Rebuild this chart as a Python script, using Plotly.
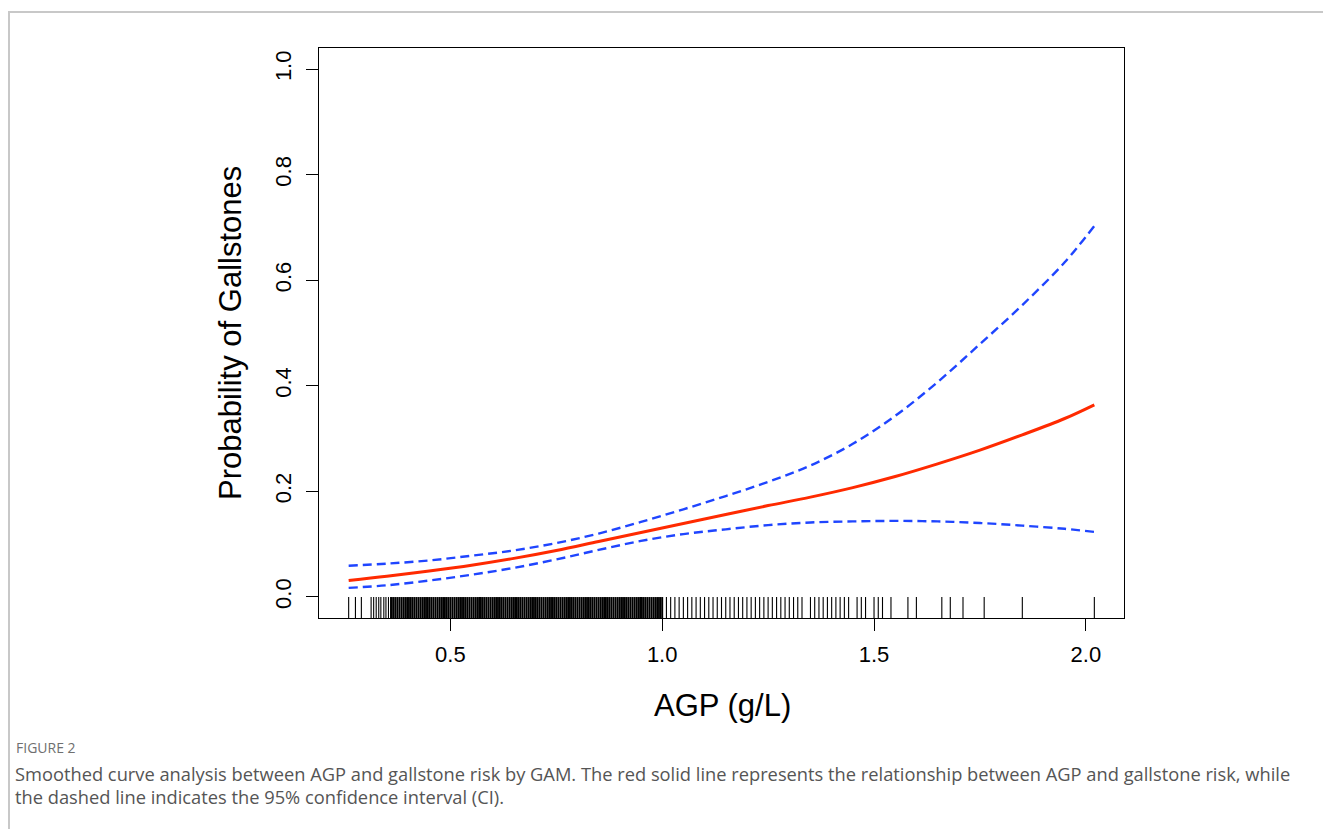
import plotly.graph_objects as go

# ---------------- data ----------------
agp = [0.26, 0.35, 0.45, 0.55, 0.65, 0.75, 0.85, 0.95, 1.05, 1.15,
       1.25, 1.35, 1.45, 1.55, 1.65, 1.75, 1.85, 1.95, 2.02]
prob_fit = [0.031, 0.039, 0.049, 0.060, 0.073, 0.088, 0.105, 0.122, 0.139, 0.156,
            0.173, 0.189, 0.207, 0.228, 0.252, 0.278, 0.307, 0.338, 0.364]
prob_upper = [0.059, 0.063, 0.069, 0.078, 0.088, 0.102, 0.120, 0.142, 0.166, 0.191,
              0.218, 0.249, 0.290, 0.343, 0.407, 0.479, 0.553, 0.634, 0.703]
prob_lower = [0.017, 0.022, 0.031, 0.042, 0.055, 0.071, 0.089, 0.106, 0.119, 0.128,
              0.136, 0.141, 0.143, 0.144, 0.143, 0.140, 0.135, 0.129, 0.123]

# observed AGP values (rug)
rug_sparse_low = [0.26, 0.276, 0.29, 0.313, 0.319, 0.325, 0.331, 0.336, 0.343, 0.348, 0.354]
rug_dense = [0.36, 0.365, 0.37, 0.375, 0.38, 0.385, 0.39, 0.395, 0.40, 0.405,
             0.41, 0.415, 0.42, 0.425, 0.43, 0.435, 0.44, 0.445, 0.45, 0.455,
             0.46, 0.465, 0.47, 0.475, 0.48, 0.485, 0.49, 0.495, 0.50, 0.505,
             0.51, 0.515, 0.52, 0.525, 0.53, 0.535, 0.54, 0.545, 0.55, 0.555,
             0.56, 0.565, 0.57, 0.575, 0.58, 0.585, 0.59, 0.595, 0.60, 0.605,
             0.61, 0.615, 0.62, 0.625, 0.63, 0.635, 0.64, 0.645, 0.65, 0.655,
             0.66, 0.665, 0.67, 0.675, 0.68, 0.685, 0.69, 0.695, 0.70, 0.705,
             0.71, 0.715, 0.72, 0.725, 0.73, 0.735, 0.74, 0.745, 0.75, 0.755,
             0.76, 0.765, 0.77, 0.775, 0.78, 0.785, 0.79, 0.795, 0.80, 0.805,
             0.81, 0.815, 0.82, 0.825, 0.83, 0.835, 0.84, 0.845, 0.85, 0.855,
             0.86, 0.865, 0.87, 0.875, 0.88, 0.885, 0.89, 0.895, 0.90, 0.905,
             0.91, 0.915, 0.92, 0.925, 0.93, 0.935, 0.94, 0.945, 0.95, 0.955,
             0.96, 0.965, 0.97, 0.975, 0.98, 0.985, 0.99, 0.995, 1.00]
rug_sparse_high = [1.01, 1.02, 1.03, 1.04, 1.05, 1.06, 1.07, 1.08, 1.09, 1.10,
                   1.11, 1.12, 1.13, 1.14, 1.15, 1.16, 1.17, 1.18, 1.19, 1.20,
                   1.21, 1.22, 1.23, 1.24, 1.25, 1.26, 1.27, 1.28, 1.29, 1.30,
                   1.31, 1.32, 1.33, 1.35, 1.36, 1.37, 1.38, 1.39, 1.40, 1.41,
                   1.42, 1.43, 1.44, 1.46, 1.47, 1.48, 1.50, 1.51, 1.52, 1.54,
                   1.58, 1.60, 1.66, 1.68, 1.71, 1.76, 1.85, 2.02]

x_ticks = [0.5, 1.0, 1.5, 2.0]
x_tick_text = ["0.5", "1.0", "1.5", "2.0"]
y_ticks = [0.0, 0.2, 0.4, 0.6, 0.8, 1.0]
y_tick_text = ["0.0", "0.2", "0.4", "0.6", "0.8", "1.0"]

x_title = "AGP (g/L)"
y_title = "Probability of Gallstones"
fig_label = "FIGURE 2"
caption_1 = ("Smoothed curve analysis between AGP and gallstone risk by GAM. The red solid line "
             "represents the relationship between AGP and gallstone risk, while")
caption_2 = "the dashed line indicates the 95% confidence interval (CI)."

# ---------------- layout geometry ----------------
OFF = 8                      # page body margin
W, H = 1331 - OFF, 829 - OFF
L = 319 - OFF
T = 48 - OFF
R = W - (1124 - OFF)
B = H - (618 - OFF)
PW, PH = W - L - R, H - T - B


def px_x(px):          # reference-page pixel -> paper coordinate
    return (px - OFF - L) / PW


def px_y(py):
    return (H - B - (py - OFF)) / PH


RED = "#ff2a00"
BLUE = "#1f45ff"
FONT = "Liberation Sans, Arial, Helvetica, sans-serif"
CAP_FONT = "Open Sans, sans-serif"

fig = go.Figure()

rug_y = -0.0215
for vals, w in ((rug_sparse_low, 1.1), (rug_dense, 2.0), (rug_sparse_high, 1.1)):
    fig.add_trace(go.Scatter(
        x=vals, y=[rug_y] * len(vals), mode="markers",
        marker=dict(symbol="line-ns", size=16, color="black",
                    line=dict(color="black", width=w)),
        hoverinfo="x", showlegend=False))

fig.add_trace(go.Scatter(x=agp, y=prob_upper, mode="lines",
                         line=dict(color=BLUE, width=2.4, dash="9px,5px", shape="spline"),
                         showlegend=False))
fig.add_trace(go.Scatter(x=agp, y=prob_lower, mode="lines",
                         line=dict(color=BLUE, width=2.4, dash="9px,5px", shape="spline"),
                         showlegend=False))
fig.add_trace(go.Scatter(x=agp, y=prob_fit, mode="lines",
                         line=dict(color=RED, width=3, shape="spline"),
                         showlegend=False))

axis_common = dict(showgrid=False, zeroline=False, showline=True, mirror=True,
                   linecolor="black", linewidth=1, ticks="outside", ticklen=12,
                   tickcolor="black", tickwidth=1,
                   tickfont=dict(family=FONT, size=22, color="black"))

fig.update_xaxes(range=[0.19, 2.09], tickvals=x_ticks, ticktext=x_tick_text,
                 ticklabelstandoff=5, **axis_common)
fig.update_yaxes(range=[-0.04, 1.04], tickvals=y_ticks, ticktext=y_tick_text,
                 tickangle=-90, ticklabelstandoff=6, **axis_common)

annotations = [
    dict(text=x_title, x=px_x(722), y=px_y(705), xref="paper", yref="paper",
         showarrow=False, font=dict(family=FONT, size=31, color="black"),
         xanchor="center", yanchor="middle"),
    dict(text=y_title, x=px_x(230), y=px_y(333), xref="paper", yref="paper",
         showarrow=False, textangle=-90, font=dict(family=FONT, size=31, color="black"),
         xanchor="center", yanchor="middle"),
    dict(text=fig_label, x=px_x(14), y=px_y(747), xref="paper", yref="paper",
         showarrow=False, font=dict(family=CAP_FONT, size=14, color="#6f6f6f"),
         xanchor="left", yanchor="middle"),
    dict(text=caption_1, x=px_x(13), y=px_y(773), xref="paper", yref="paper",
         showarrow=False, font=dict(family=CAP_FONT, size=18.3, color="#555555"),
         xanchor="left", yanchor="middle"),
    dict(text=caption_2, x=px_x(13), y=px_y(797), xref="paper", yref="paper",
         showarrow=False, font=dict(family=CAP_FONT, size=18.3, color="#555555"),
         xanchor="left", yanchor="middle"),
]

shapes = [
    dict(type="line", xref="paper", yref="paper", x0=px_x(8), x1=px_x(1331),
         y0=px_y(12), y1=px_y(12), line=dict(color="#c8c8c8", width=2)),
    dict(type="line", xref="paper", yref="paper", x0=px_x(9), x1=px_x(9),
         y0=px_y(12), y1=px_y(829), line=dict(color="#c8c8c8", width=2)),
]

fig.update_layout(width=W, height=H, margin=dict(l=L, r=R, t=T, b=B, autoexpand=False),
                  paper_bgcolor="white", plot_bgcolor="white",
                  annotations=annotations, shapes=shapes, showlegend=False)

fig.write_html("out.html")
